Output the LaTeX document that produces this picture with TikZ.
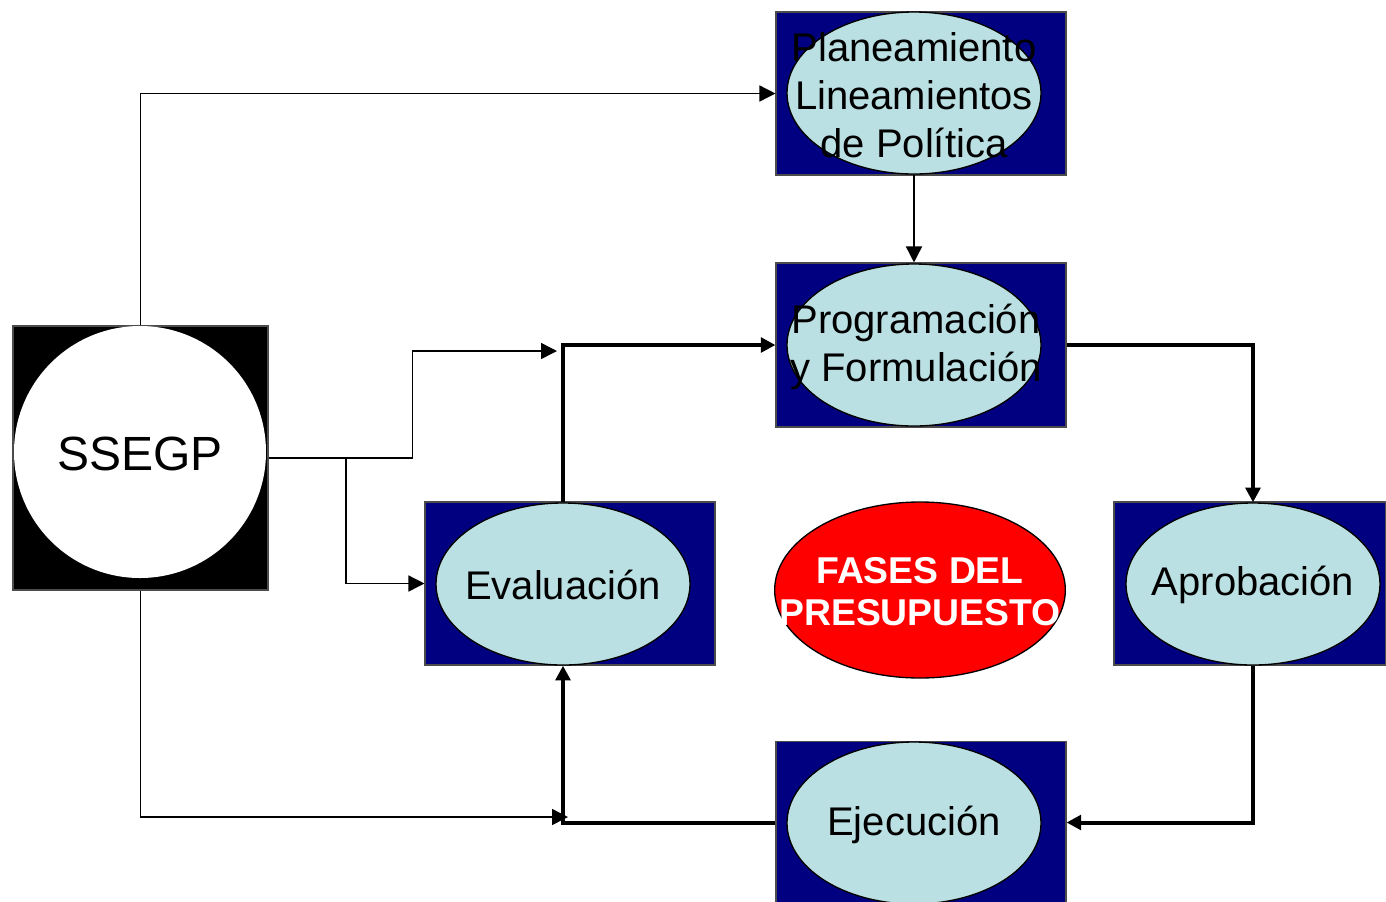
\documentclass[tikz,border=0pt]{standalone}
\usepackage{fontspec}
\setmainfont{Liberation Sans}
\usetikzlibrary{arrows.meta,shapes.geometric}
\definecolor{navybox}{RGB}{0,0,128}
\definecolor{lightcyan}{RGB}{187,224,227}
\definecolor{redfill}{RGB}{255,0,0}
\tikzset{
  phasebox/.style={rectangle,draw=black!70,line width=0.8pt,fill=navybox,inner sep=0pt},
  phaseell/.style={ellipse,draw=black,line width=1pt,fill=lightcyan,inner sep=0pt,
     minimum width=190.5pt,minimum height=121.5pt},
  phasetext/.style={inner sep=0pt,align=center,font=\fontsize{30}{36}\selectfont},
  thinarrow/.style={line width=1.1pt,-{Triangle[length=12pt,width=12pt]}},
  thickarrow/.style={line width=3pt,-{Triangle[length=11pt,width=11pt]}},
}
\begin{document}
\begin{tikzpicture}[x=0.75pt,y=-0.75pt]
\useasboundingbox (0,0) rectangle (1386,901);
% boxes
\node[phasebox,minimum width=217.5pt,minimum height=122.25pt] (planbox) at (921,93.5) {};
\node[phasebox,minimum width=217.5pt,minimum height=123pt] (progbox) at (921,345) {};
\node[phasebox,minimum width=217.5pt,minimum height=122.25pt] (evalbox) at (570,583.5) {};
\node[phasebox,minimum width=204pt,minimum height=122.25pt] (aprobbox) at (1250,583.5) {};
\node[phasebox,minimum width=217.5pt,minimum height=121.5pt] (ejecbox) at (921,822.5) {};
% ellipses
\node[phaseell] (planell) at (914,93) {};
\node[phaseell] (progell) at (914,345) {};
\node[phaseell] (evalell) at (563,584) {};
\node[phaseell] (aprobell) at (1253,584) {};
\node[phaseell] (ejecell) at (914,823) {};
\node[phasetext] (plantxt) at (914,95) {Planeamiento\\Lineamientos\\de Política};
\node[phasetext] (progtxt) at (916,347) {Programación\\y Formulación};
\node[phasetext] (evaltxt) at (563,585) {Evaluación};
\node[phasetext] (aprobtxt) at (1253,585) {Aprobación};
\node[phasetext] (ejectxt) at (914,825) {Ejecución};
% SSEGP
\node[rectangle,fill=black,draw=black!70,line width=0.8pt,minimum width=191.25pt,minimum height=198pt,inner sep=0pt] (ssegpbox) at (140.5,458) {};
\node[circle,fill=white,inner sep=0pt,minimum size=189pt] (ssegp) at (140,452) {};
\node[inner sep=0pt,font=\fontsize{36}{42}\selectfont] (ssegptxt) at (140,454) {SSEGP};
% center label
\node[ellipse,draw=black,line width=1pt,fill=redfill,inner sep=0pt,minimum width=218pt,minimum height=132pt] (fases) at (920,590) {};
\node[inner sep=0pt,align=center,text=white,font=\bfseries\fontsize{28}{31.5}\selectfont] (fasestxt) at (920,592) {FASES DEL\\PRESUPUESTO};
% junction coordinates
\coordinate (j1) at (557,351);
\coordinate (j2) at (568,817);
\coordinate (br) at (346,458);
% thin connectors
\draw[thinarrow] (ssegpbox.north) |- (planbox.west);
\draw[thinarrow] (planell.south) -- (planell.south |- progbox.north);
\draw[thinarrow] (ssegpbox.east) -- ++(144,0) |- (j1);
\draw[thinarrow] (br) |- (evalbox.west);
\draw[thinarrow] (ssegpbox.south) |- (j2);
% thick cycle
\draw[thickarrow] (evalell.north) |- (progbox.west);
\draw[thickarrow] (progbox.east) -| (aprobell.north);
\draw[thickarrow] (aprobell.south) |- (ejecbox.east);
\draw[thickarrow] (ejecbox.west) -| (evalell.south);
\end{tikzpicture}
\end{document}
